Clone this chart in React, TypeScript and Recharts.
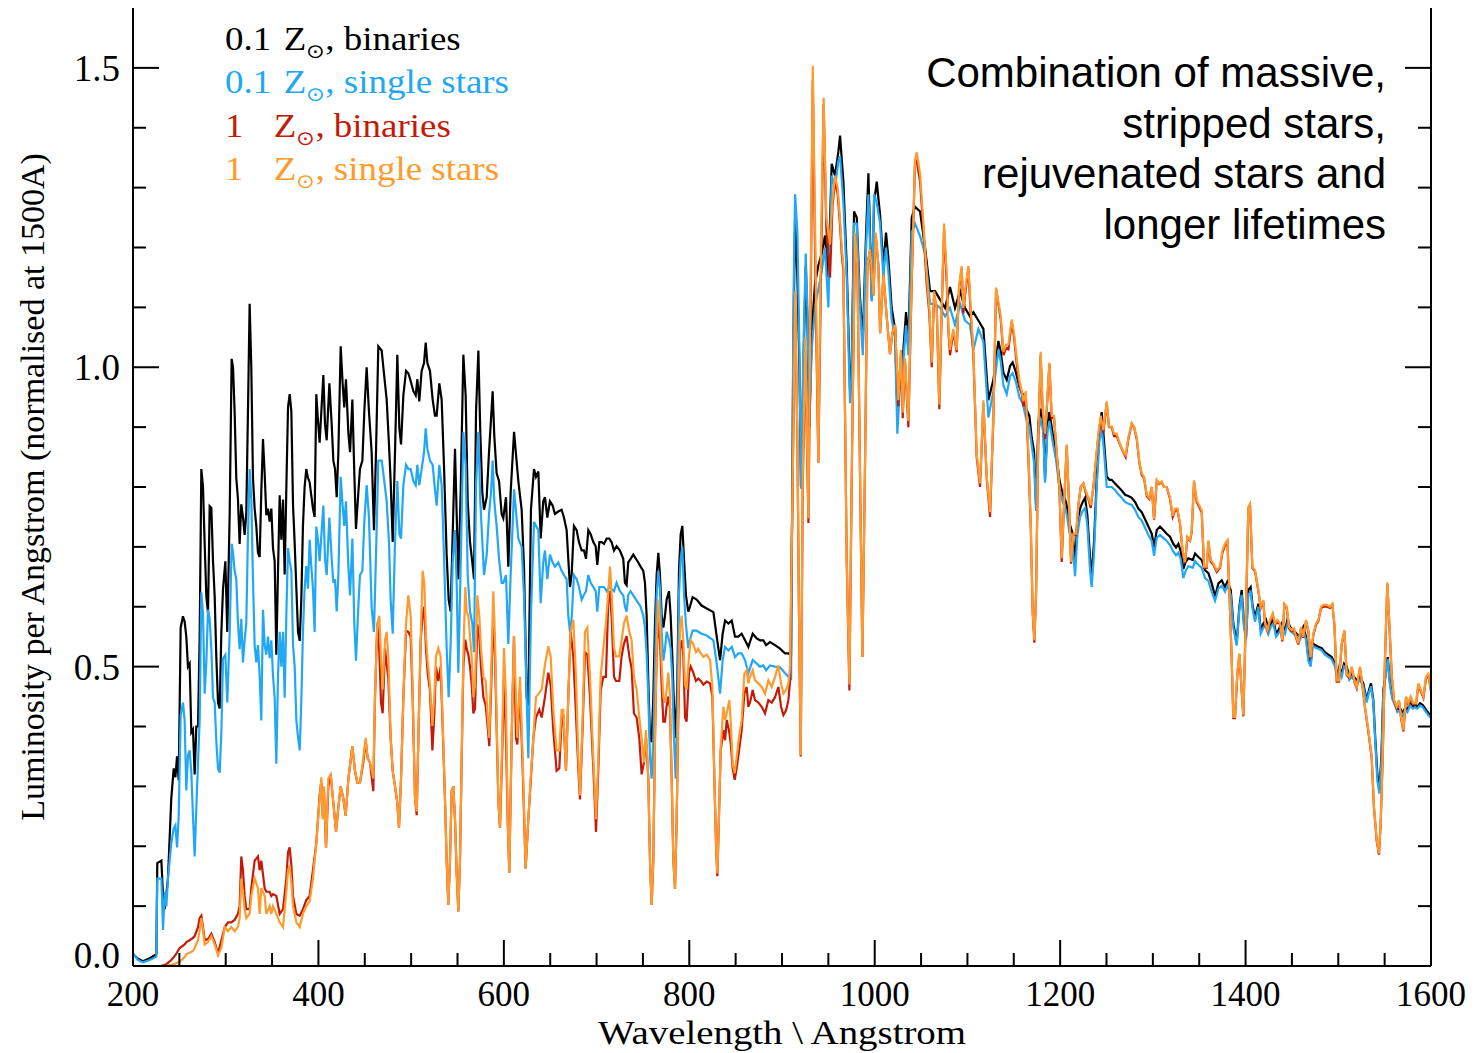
import React from 'react';
import { LineChart, Line, XAxis, YAxis } from 'recharts';

// ---------- data: 0.1 Zsun (binaries = black, single = blue) ----------
const lowZWavelength = [
  200.0, 205.4, 210.8, 218.0, 223.4, 225.2, 226.2, 230.6, 232.4, 234.2,
  236.0, 237.7, 241.3, 243.9, 245.7, 247.5, 249.3, 251.4, 253.9, 255.7,
  257.5, 259.3, 261.1, 262.9, 264.7, 266.5, 268.3, 270.1, 271.9, 273.7,
  275.5, 277.3, 279.1, 280.9, 282.7, 284.5, 286.3, 288.1, 289.9, 291.7,
  293.5, 295.3, 297.1, 299.6, 301.7, 304.3, 306.4, 307.9, 309.6, 311.4,
  313.2, 315.0, 316.8, 318.6, 320.4, 322.2, 324.0, 325.8, 327.6, 329.4,
  331.2, 333.0, 334.8, 336.6, 338.4, 340.2, 342.0, 343.8, 345.6, 347.4,
  349.2, 351.0, 352.8, 354.6, 356.4, 358.2, 360.0, 361.8, 363.6, 365.4,
  367.2, 369.0, 370.8, 372.6, 374.4, 376.2, 378.0, 379.8, 381.5, 383.3,
  385.1, 386.9, 388.7, 390.5, 392.3, 394.1, 395.9, 397.7, 399.5, 401.3,
  405.3, 407.1, 408.9, 411.8, 414.3, 416.1, 417.9, 419.7, 421.5, 424.0,
  426.1, 427.9, 429.7, 432.3, 434.1, 436.6, 438.7, 440.5, 443.0, 444.8,
  447.4, 449.5, 452.0, 454.5, 457.4, 459.9, 462.1, 464.6, 468.2, 470.0,
  473.6, 476.1, 477.9, 480.1, 482.6, 485.1, 487.3, 489.1, 491.6, 494.5,
  497.0, 499.5, 502.4, 504.9, 506.7, 508.8, 511.3, 513.9, 515.7, 517.5,
  520.3, 523.2, 525.7, 527.5, 530.4, 532.9, 535.4, 538.3, 540.5, 542.6,
  544.8, 547.3, 549.1, 550.9, 553.4, 556.3, 558.8, 561.0, 563.5, 566.0,
  567.8, 570.0, 572.5, 574.6, 576.8, 578.6, 581.5, 584.0, 586.1, 587.9,
  589.7, 592.2, 594.8, 597.6, 599.4, 602.3, 604.8, 607.3, 611.0, 615.6,
  619.2, 621.7, 624.6, 626.4, 629.2, 632.5, 634.6, 637.2, 639.7, 642.5,
  644.3, 646.9, 649.7, 652.6, 655.1, 658.7, 662.3, 664.8, 667.7, 669.5,
  671.3, 673.1, 675.6, 678.5, 681.0, 683.9, 686.4, 688.6, 691.1, 693.6,
  696.5, 699.0, 700.8, 703.0, 705.5, 708.0, 710.9, 713.7, 716.2, 718.8,
  721.6, 725.2, 728.8, 730.6, 732.4, 734.2, 736.7, 739.6, 742.5, 745.0,
  747.5, 750.4, 752.2, 754.0, 755.8, 757.6, 759.4, 761.2, 763.0, 764.8,
  766.6, 768.4, 770.2, 772.0, 773.8, 775.6, 778.1, 779.9, 781.7, 783.5,
  785.3, 787.1, 788.9, 790.7, 792.5, 794.3, 796.4, 798.9, 800.7, 803.6,
  807.9, 813.3, 818.8, 826.0, 829.6, 833.2, 836.0, 838.6, 842.2, 845.8,
  849.3, 852.9, 856.5, 860.1, 863.7, 868.4, 872.7, 876.3, 879.9, 882.8,
  887.1, 892.5, 897.9, 903.3, 906.9, 909.8, 912.3, 914.1, 916.6, 918.8,
  920.5, 923.1, 925.6, 927.4, 929.5, 932.1, 935.6, 939.2, 942.8, 946.4,
  950.0, 953.6, 957.2, 960.8, 962.6, 966.2, 969.8, 973.4, 975.2, 977.7,
  980.6, 983.5, 987.1, 990.7, 993.2, 996.8, 999.3, 1002.2, 1005.8, 1009.3,
  1012.2, 1014.7, 1018.3, 1021.9, 1024.4, 1027.3, 1030.9, 1033.8, 1036.3, 1039.9,
  1043.5, 1048.9, 1054.3, 1059.7, 1065.1, 1070.5, 1075.9, 1081.2, 1086.6, 1092.0,
  1097.4, 1102.8, 1106.4, 1111.8, 1117.2, 1122.6, 1128.0, 1133.4, 1135.9, 1138.8,
  1142.4, 1146.0, 1148.8, 1152.4, 1156.0, 1159.6, 1163.2, 1166.8, 1169.3, 1171.9,
  1174.0, 1176.5, 1179.0, 1181.9, 1183.7, 1186.2, 1188.4, 1192.0, 1195.6, 1199.2,
  1202.8, 1206.4, 1210.0, 1213.6, 1216.1, 1218.6, 1221.5, 1224.3, 1226.9, 1229.4,
  1232.3, 1234.0, 1236.6, 1239.4, 1242.3, 1244.8, 1247.3, 1250.2, 1253.1, 1255.6,
  1259.2, 1262.8, 1266.4, 1270.0, 1273.6, 1277.2, 1280.8, 1284.4, 1288.0, 1291.6,
  1295.2, 1298.8, 1301.3, 1304.2, 1307.7, 1311.3, 1314.9, 1318.5, 1322.1, 1325.0,
  1327.5, 1330.0, 1332.9, 1335.4, 1338.3, 1343.0, 1345.5, 1349.1, 1352.7, 1356.3,
  1359.9, 1363.5, 1367.1, 1370.7, 1374.3, 1377.8, 1380.4, 1384.0, 1386.8, 1390.4,
  1393.3, 1395.8, 1398.3, 1400.5, 1403.0, 1405.5, 1407.7, 1410.2, 1413.8, 1416.3,
  1419.2, 1422.1, 1424.6, 1427.1, 1430.0, 1432.9, 1435.4, 1439.0, 1442.6, 1445.1,
  1448.0, 1451.6, 1455.1, 1458.7, 1462.3, 1465.2, 1467.7, 1470.2, 1472.4, 1474.9,
  1478.5, 1482.1, 1485.7, 1489.3, 1492.9, 1496.5, 1499.0, 1501.2, 1503.7, 1506.2,
  1509.1, 1511.9, 1514.5, 1517.0, 1519.9, 1523.4, 1527.0, 1530.6, 1533.1, 1535.3,
  1537.8, 1540.0, 1542.1, 1544.3, 1546.5, 1548.6, 1551.1, 1553.3, 1555.8, 1558.3,
  1561.2, 1563.7, 1566.6, 1569.5, 1572.0, 1574.5, 1577.4, 1580.3, 1582.8, 1585.3,
  1588.2, 1591.1, 1594.6, 1597.5, 1600.0,
];

const lowZBinaries = [
  0.020, 0.012, 0.008, 0.013, 0.018, 0.020, 0.172, 0.176, 0.117, 0.095,
  0.120, 0.146, 0.280, 0.330, 0.315, 0.350, 0.310, 0.565, 0.584, 0.575,
  0.550, 0.500, 0.505, 0.390, 0.395, 0.320, 0.400, 0.400, 0.550, 0.830,
  0.800, 0.705, 0.617, 0.590, 0.768, 0.765, 0.676, 0.617, 0.514, 0.440,
  0.430, 0.558, 0.630, 0.676, 0.558, 0.757, 1.014, 1.000, 0.926, 0.815,
  0.780, 0.705, 0.771, 0.750, 0.720, 0.757, 0.926, 1.106, 1.000, 0.815,
  0.764, 0.735, 0.690, 0.683, 0.793, 0.880, 0.823, 0.753, 0.764, 0.742,
  0.764, 0.698, 0.676, 0.520, 0.660, 0.786, 0.712, 0.779, 0.654, 0.800,
  0.933, 0.955, 0.926, 0.770, 0.705, 0.630, 0.558, 0.543, 0.610, 0.735,
  0.800, 0.830, 0.815, 0.808, 0.786, 0.764, 0.750, 0.955, 0.911, 0.874,
  0.987, 0.905, 0.878, 0.973, 0.905, 0.844, 0.830, 0.783, 0.858, 1.035,
  0.973, 0.933, 0.980, 0.890, 0.858, 0.946, 0.823, 0.730, 0.790, 0.830,
  0.844, 0.926, 1.000, 0.926, 0.858, 0.728, 0.858, 1.035, 1.028, 1.000,
  0.946, 0.871, 0.810, 0.708, 0.858, 1.021, 0.898, 0.871, 0.953, 0.994,
  0.990, 0.977, 0.960, 0.953, 0.980, 0.943, 0.994, 1.007, 1.041, 1.007,
  0.994, 0.946, 0.919, 0.919, 0.973, 0.946, 0.837, 0.687, 0.612, 0.592,
  0.721, 0.864, 0.755, 0.646, 0.790, 1.021, 0.953, 0.776, 0.708, 0.674,
  0.646, 0.926, 1.028, 0.891, 0.790, 0.762, 0.783, 0.858, 0.912, 0.960,
  0.885, 0.823, 0.810, 0.755, 0.748, 0.783, 0.667, 0.790, 0.892, 0.810,
  0.762, 0.667, 0.449, 0.435, 0.762, 0.830, 0.817, 0.826, 0.714, 0.776,
  0.783, 0.749, 0.776, 0.769, 0.755, 0.759, 0.762, 0.749, 0.728, 0.680,
  0.633, 0.653, 0.735, 0.728, 0.708, 0.694, 0.694, 0.680, 0.728, 0.721,
  0.708, 0.701, 0.670, 0.708, 0.708, 0.705, 0.714, 0.714, 0.708, 0.694,
  0.701, 0.694, 0.680, 0.640, 0.636, 0.674, 0.680, 0.687, 0.680, 0.674,
  0.667, 0.660, 0.640, 0.585, 0.476, 0.381, 0.374, 0.449, 0.572, 0.653,
  0.690, 0.653, 0.585, 0.565, 0.585, 0.612, 0.626, 0.585, 0.517, 0.435,
  0.381, 0.470, 0.660, 0.721, 0.735, 0.680, 0.619, 0.592, 0.600, 0.616,
  0.612, 0.602, 0.597, 0.591, 0.550, 0.511, 0.555, 0.577, 0.572, 0.577,
  0.550, 0.550, 0.555, 0.544, 0.533, 0.555, 0.547, 0.544, 0.544, 0.536,
  0.541, 0.536, 0.530, 0.522, 0.522, 0.520, 1.050, 1.250, 1.150, 1.000,
  0.800, 1.000, 1.170, 1.080, 0.900, 1.060, 1.140, 1.170, 1.190, 1.220,
  1.150, 1.340, 1.320, 1.360, 1.387, 1.310, 1.170, 0.960, 1.000, 1.260,
  1.250, 1.134, 1.043, 1.225, 1.324, 1.113, 1.275, 1.310, 1.254, 1.169,
  1.225, 1.183, 1.099, 1.064, 0.924, 0.994, 1.029, 1.092, 1.043, 1.250,
  1.268, 1.260, 1.200, 1.127, 1.127, 1.113, 1.099, 1.134, 1.099, 1.127,
  1.099, 1.085, 1.092, 1.078, 1.064, 0.945, 0.979, 1.044, 1.026, 0.991,
  0.979, 1.002, 1.008, 0.991, 0.967, 0.955, 0.931, 0.919, 0.883, 0.859,
  0.770, 0.907, 0.931, 0.901, 0.813, 0.901, 0.925, 0.889, 0.859, 0.812,
  0.787, 0.775, 0.740, 0.722, 0.675, 0.740, 0.764, 0.775, 0.782, 0.752,
  0.681, 0.651, 0.710, 0.812, 0.895, 0.925, 0.877, 0.818, 0.812, 0.812,
  0.806, 0.800, 0.794, 0.787, 0.785, 0.782, 0.775, 0.764, 0.758, 0.746,
  0.734, 0.722, 0.699, 0.728, 0.734, 0.728, 0.722, 0.717, 0.705, 0.699,
  0.705, 0.693, 0.663, 0.675, 0.681, 0.678, 0.689, 0.683, 0.678, 0.661,
  0.656, 0.639, 0.617, 0.639, 0.644, 0.633, 0.642, 0.628, 0.572, 0.539,
  0.600, 0.628, 0.572, 0.550, 0.628, 0.633, 0.600, 0.583, 0.605, 0.561,
  0.572, 0.578, 0.561, 0.572, 0.578, 0.555, 0.561, 0.572, 0.561, 0.578,
  0.566, 0.561, 0.555, 0.550, 0.566, 0.550, 0.516, 0.505, 0.539, 0.536,
  0.533, 0.531, 0.524, 0.520, 0.516, 0.505, 0.483, 0.500, 0.488, 0.505,
  0.500, 0.483, 0.488, 0.483, 0.477, 0.483, 0.472, 0.444, 0.461, 0.472,
  0.444, 0.377, 0.322, 0.294, 0.350, 0.461, 0.488, 0.516, 0.472, 0.450,
  0.439, 0.428, 0.431, 0.422, 0.431, 0.428, 0.439, 0.433, 0.436, 0.433,
  0.439, 0.436, 0.428, 0.422, 0.419,
];

const lowZSingle = [
  0.021, 0.010, 0.006, 0.010, 0.014, 0.016, 0.146, 0.146, 0.060, 0.124,
  0.100, 0.146, 0.205, 0.230, 0.235, 0.198, 0.250, 0.418, 0.440, 0.410,
  0.293, 0.352, 0.360, 0.323, 0.250, 0.183, 0.264, 0.340, 0.410, 0.624,
  0.588, 0.455, 0.507, 0.595, 0.580, 0.529, 0.448, 0.440, 0.374, 0.330,
  0.323, 0.390, 0.514, 0.520, 0.440, 0.558, 0.705, 0.690, 0.660, 0.646,
  0.573, 0.529, 0.580, 0.507, 0.544, 0.573, 0.720, 0.830, 0.780, 0.646,
  0.536, 0.507, 0.536, 0.485, 0.410, 0.595, 0.536, 0.520, 0.550, 0.514,
  0.544, 0.485, 0.448, 0.338, 0.485, 0.558, 0.500, 0.558, 0.448, 0.588,
  0.698, 0.676, 0.660, 0.536, 0.500, 0.410, 0.382, 0.360, 0.440, 0.558,
  0.630, 0.668, 0.630, 0.712, 0.668, 0.630, 0.558, 0.734, 0.712, 0.676,
  0.769, 0.680, 0.653, 0.749, 0.680, 0.640, 0.646, 0.592, 0.653, 0.817,
  0.769, 0.735, 0.776, 0.667, 0.619, 0.714, 0.572, 0.510, 0.599, 0.653,
  0.660, 0.742, 0.803, 0.750, 0.599, 0.558, 0.687, 0.844, 0.844, 0.823,
  0.776, 0.708, 0.612, 0.555, 0.708, 0.810, 0.721, 0.714, 0.803, 0.837,
  0.830, 0.830, 0.810, 0.803, 0.837, 0.803, 0.830, 0.858, 0.898, 0.864,
  0.844, 0.837, 0.796, 0.769, 0.837, 0.803, 0.687, 0.531, 0.449, 0.538,
  0.674, 0.728, 0.640, 0.490, 0.667, 0.892, 0.837, 0.653, 0.592, 0.572,
  0.524, 0.803, 0.892, 0.776, 0.708, 0.653, 0.687, 0.755, 0.790, 0.844,
  0.776, 0.735, 0.680, 0.640, 0.640, 0.653, 0.538, 0.653, 0.796, 0.714,
  0.700, 0.619, 0.449, 0.347, 0.585, 0.742, 0.735, 0.728, 0.606, 0.674,
  0.694, 0.646, 0.687, 0.674, 0.667, 0.674, 0.660, 0.653, 0.646, 0.585,
  0.558, 0.580, 0.653, 0.646, 0.633, 0.612, 0.620, 0.626, 0.653, 0.640,
  0.633, 0.626, 0.592, 0.633, 0.633, 0.633, 0.626, 0.633, 0.630, 0.626,
  0.640, 0.626, 0.619, 0.600, 0.592, 0.620, 0.626, 0.619, 0.612, 0.606,
  0.600, 0.585, 0.565, 0.520, 0.449, 0.350, 0.313, 0.380, 0.500, 0.620,
  0.660, 0.630, 0.558, 0.510, 0.530, 0.558, 0.545, 0.530, 0.480, 0.381,
  0.313, 0.420, 0.620, 0.680, 0.700, 0.620, 0.570, 0.531, 0.545, 0.560,
  0.560, 0.555, 0.552, 0.544, 0.505, 0.455, 0.511, 0.533, 0.527, 0.533,
  0.516, 0.522, 0.522, 0.511, 0.489, 0.511, 0.505, 0.500, 0.502, 0.494,
  0.502, 0.500, 0.499, 0.489, 0.483, 0.480, 1.100, 1.289, 1.225, 1.029,
  0.797, 1.029, 1.190, 1.099, 0.903, 1.030, 1.100, 1.130, 1.160, 1.200,
  1.100, 1.320, 1.300, 1.345, 1.352, 1.275, 1.150, 0.940, 0.980, 1.240,
  1.240, 1.120, 1.020, 1.200, 1.289, 1.110, 1.289, 1.275, 1.240, 1.150,
  1.200, 1.160, 1.080, 1.050, 0.889, 0.970, 1.010, 1.070, 1.020, 1.225,
  1.240, 1.219, 1.190, 1.106, 1.106, 1.099, 1.085, 1.099, 1.071, 1.106,
  1.078, 1.071, 1.029, 1.064, 1.043, 0.916, 0.960, 1.030, 1.010, 0.970,
  0.955, 0.985, 0.990, 0.975, 0.950, 0.940, 0.915, 0.900, 0.870, 0.840,
  0.760, 0.890, 0.915, 0.890, 0.807, 0.890, 0.910, 0.875, 0.845, 0.800,
  0.775, 0.760, 0.725, 0.700, 0.651, 0.720, 0.750, 0.760, 0.765, 0.735,
  0.660, 0.633, 0.690, 0.800, 0.875, 0.900, 0.860, 0.800, 0.800, 0.800,
  0.795, 0.788, 0.782, 0.775, 0.772, 0.770, 0.762, 0.750, 0.744, 0.732,
  0.720, 0.710, 0.685, 0.715, 0.720, 0.715, 0.710, 0.703, 0.692, 0.686,
  0.690, 0.680, 0.648, 0.660, 0.668, 0.665, 0.676, 0.670, 0.665, 0.648,
  0.643, 0.625, 0.610, 0.630, 0.635, 0.625, 0.635, 0.620, 0.565, 0.535,
  0.595, 0.620, 0.565, 0.545, 0.620, 0.625, 0.595, 0.575, 0.600, 0.555,
  0.565, 0.570, 0.555, 0.566, 0.572, 0.550, 0.555, 0.566, 0.555, 0.572,
  0.560, 0.555, 0.550, 0.545, 0.560, 0.545, 0.510, 0.500, 0.535, 0.532,
  0.530, 0.527, 0.520, 0.516, 0.512, 0.500, 0.478, 0.495, 0.483, 0.500,
  0.495, 0.478, 0.483, 0.478, 0.472, 0.478, 0.467, 0.440, 0.457, 0.467,
  0.440, 0.370, 0.310, 0.288, 0.340, 0.455, 0.485, 0.513, 0.468, 0.446,
  0.435, 0.424, 0.427, 0.418, 0.427, 0.424, 0.435, 0.430, 0.432, 0.430,
  0.435, 0.432, 0.424, 0.418, 0.415,
];

// ---------- data: 1 Zsun (binaries = red, single = orange) ----------
const solarZWavelength = [
  200.0, 230.0, 236.0, 241.3, 245.7, 250.3, 255.7, 257.5, 261.1, 264.7,
  266.5, 270.1, 271.9, 273.7, 275.5, 277.3, 280.9, 284.5, 288.1, 291.7,
  295.3, 299.0, 302.5, 306.0, 309.6, 313.2, 315.0, 316.8, 318.6, 320.4,
  322.2, 325.8, 327.6, 331.2, 334.8, 336.6, 338.4, 342.0, 343.8, 347.4,
  349.2, 351.0, 354.6, 358.2, 361.8, 365.4, 367.2, 369.0, 370.8, 372.6,
  376.2, 379.8, 383.3, 386.9, 390.5, 394.1, 397.7, 401.3, 403.1, 404.6,
  406.0, 408.2, 410.7, 413.2, 416.1, 419.0, 421.5, 424.0, 426.9, 429.4,
  432.3, 436.6, 439.4, 442.0, 444.8, 448.4, 451.0, 453.1, 455.6, 459.2,
  461.0, 463.5, 465.7, 467.5, 469.3, 471.8, 473.6, 475.4, 477.9, 480.1,
  482.6, 485.1, 486.9, 489.1, 491.6, 494.5, 497.0, 499.5, 501.6, 504.2,
  506.0, 507.8, 510.3, 512.4, 514.2, 516.0, 517.8, 520.3, 522.9, 525.0,
  526.8, 529.3, 531.8, 534.0, 536.5, 538.3, 540.1, 541.9, 543.7, 545.5,
  547.3, 549.1, 550.9, 552.7, 554.5, 556.3, 558.4, 559.9, 561.7, 563.5,
  565.3, 567.1, 568.9, 571.4, 573.5, 575.3, 577.9, 580.4, 582.5, 584.3,
  586.8, 588.6, 590.4, 592.2, 594.0, 595.8, 598.3, 600.1, 602.3, 604.1,
  605.9, 608.4, 610.9, 613.1, 614.5, 617.4, 620.3, 623.5, 626.4, 628.9,
  631.8, 634.6, 638.2, 640.8, 644.3, 647.9, 650.5, 653.3, 656.9, 659.8,
  662.3, 664.1, 667.0, 669.5, 672.0, 674.9, 677.8, 680.3, 682.1, 685.0,
  687.5, 690.0, 692.9, 696.5, 699.4, 701.9, 704.4, 707.3, 710.1, 712.7,
  714.5, 716.3, 718.8, 720.9, 724.5, 727.0, 729.5, 732.4, 735.3, 737.8,
  740.3, 743.2, 746.1, 748.6, 751.1, 753.3, 755.8, 757.6, 759.4, 761.2,
  763.0, 764.8, 766.6, 768.4, 770.2, 772.0, 773.8, 775.6, 777.4, 779.2,
  781.0, 782.8, 784.6, 786.4, 788.2, 790.0, 791.8, 793.6, 795.4, 797.1,
  799.7, 801.5, 804.3, 807.2, 809.7, 812.5, 815.2, 818.8, 822.4, 824.9,
  827.1, 828.9, 830.3, 832.1, 833.9, 836.8, 838.6, 840.4, 843.2, 844.8,
  846.8, 849.0, 851.1, 853.7, 856.5, 859.4, 861.9, 863.7, 865.5, 868.4,
  870.9, 874.5, 878.1, 881.7, 885.3, 888.9, 892.5, 896.1, 899.0, 901.5,
  904.4, 906.9, 908.7, 910.5, 912.3, 914.1, 916.6, 918.2, 920.2, 922.4,
  925.0, 928.5, 930.6, 933.2, 936.0, 939.2, 942.0, 944.9, 947.8, 951.8,
  954.5, 957.2, 960.0, 962.5, 964.4, 966.2, 969.8, 972.7, 975.2, 978.8,
  981.3, 984.2, 986.7, 989.4, 992.1, 995.0, 998.6, 1001.1, 1004.0, 1005.8,
  1009.4, 1012.9, 1016.5, 1019.0, 1022.0, 1025.5, 1028.4, 1030.2, 1032.7, 1036.3,
  1039.9, 1043.5, 1045.3, 1048.9, 1052.5, 1056.0, 1058.9, 1061.5, 1064.0, 1066.9,
  1069.7, 1072.2, 1074.8, 1077.7, 1079.5, 1081.2, 1084.8, 1088.4, 1090.9, 1093.8,
  1095.6, 1097.4, 1101.0, 1103.5, 1106.4, 1110.0, 1113.6, 1117.2, 1120.8, 1124.4,
  1128.0, 1130.9, 1133.4, 1135.9, 1138.8, 1141.7, 1144.2, 1147.8, 1150.3, 1153.2,
  1156.0, 1158.6, 1160.4, 1162.9, 1165.7, 1168.3, 1170.4, 1172.2, 1174.0, 1176.5,
  1179.0, 1181.2, 1183.7, 1186.2, 1188.4, 1190.9, 1193.4, 1196.3, 1199.2, 1201.7,
  1204.2, 1207.1, 1209.6, 1211.8, 1214.3, 1217.2, 1219.7, 1222.2, 1225.1, 1227.6,
  1230.5, 1233.0, 1235.9, 1238.7, 1241.2, 1243.8, 1246.6, 1250.2, 1252.7, 1255.6,
  1258.1, 1261.0, 1264.6, 1268.2, 1270.7, 1273.6, 1277.2, 1279.7, 1282.6, 1285.5,
  1288.0, 1290.5, 1293.4, 1296.2, 1298.8, 1301.3, 1304.2, 1307.0, 1309.5, 1312.0,
  1314.9, 1318.5, 1321.4, 1323.9, 1326.4, 1329.3, 1332.2, 1334.7, 1337.2, 1340.1,
  1341.9, 1344.4, 1347.3, 1352.7, 1355.2, 1358.1, 1359.9, 1362.4, 1365.3, 1368.9,
  1372.5, 1375.0, 1377.8, 1380.4, 1382.5, 1385.0, 1386.8, 1388.6, 1391.1, 1393.3,
  1395.8, 1397.6, 1400.1, 1403.0, 1404.8, 1407.3, 1410.2, 1413.8, 1416.3, 1419.2,
  1421.0, 1423.5, 1426.4, 1429.3, 1431.8, 1434.3, 1437.2, 1439.7, 1441.8, 1444.4,
  1446.9, 1449.8, 1452.3, 1454.4, 1456.9, 1459.8, 1462.3, 1465.2, 1467.7, 1470.2,
  1473.1, 1476.0, 1478.5, 1481.4, 1483.9, 1487.5, 1491.1, 1493.6, 1495.8, 1498.3,
  1500.8, 1503.7, 1506.6, 1509.1, 1511.9, 1514.5, 1517.3, 1519.9, 1523.4, 1526.3,
  1528.8, 1532.4, 1536.0, 1538.5, 1541.4, 1543.9, 1545.7, 1547.9, 1550.4, 1552.9,
  1555.1, 1557.6, 1560.1, 1563.0, 1565.5, 1567.7, 1570.2, 1573.1, 1575.6, 1578.1,
  1581.0, 1583.9, 1586.4, 1588.9, 1591.8, 1594.6, 1597.1, 1600.0,
];

const solarZBinaries = [
  0.000, 0.000, 0.003, 0.010, 0.018, 0.030, 0.036, 0.040, 0.043, 0.047,
  0.050, 0.065, 0.080, 0.084, 0.065, 0.043, 0.045, 0.054, 0.040, 0.021,
  0.043, 0.065, 0.073, 0.073, 0.077, 0.087, 0.100, 0.183, 0.160, 0.117,
  0.095, 0.095, 0.130, 0.176, 0.183, 0.160, 0.176, 0.130, 0.124, 0.124,
  0.117, 0.120, 0.117, 0.087, 0.095, 0.146, 0.190, 0.198, 0.168, 0.117,
  0.087, 0.084, 0.095, 0.110, 0.117, 0.160, 0.205, 0.286, 0.308, 0.250,
  0.290, 0.197, 0.300, 0.320, 0.272, 0.224, 0.265, 0.300, 0.279, 0.251,
  0.313, 0.367, 0.326, 0.306, 0.306, 0.340, 0.375, 0.347, 0.340, 0.292,
  0.449, 0.572, 0.524, 0.440, 0.422, 0.530, 0.504, 0.480, 0.381, 0.326,
  0.300, 0.272, 0.231, 0.313, 0.449, 0.560, 0.558, 0.550, 0.450, 0.279,
  0.252, 0.381, 0.544, 0.585, 0.600, 0.530, 0.490, 0.460, 0.360, 0.420,
  0.500, 0.476, 0.500, 0.400, 0.279, 0.177, 0.102, 0.177, 0.292, 0.300,
  0.245, 0.156, 0.091, 0.177, 0.347, 0.500, 0.545, 0.530, 0.520, 0.500,
  0.470, 0.422, 0.430, 0.571, 0.550, 0.500, 0.449, 0.435, 0.400, 0.367,
  0.490, 0.585, 0.520, 0.400, 0.279, 0.231, 0.360, 0.483, 0.381, 0.245,
  0.156, 0.381, 0.551, 0.381, 0.370, 0.460, 0.330, 0.163, 0.245, 0.306,
  0.381, 0.415, 0.428, 0.415, 0.449, 0.490, 0.469, 0.394, 0.326, 0.330,
  0.410, 0.420, 0.326, 0.449, 0.558, 0.517, 0.420, 0.330, 0.278, 0.400,
  0.524, 0.520, 0.449, 0.330, 0.224, 0.330, 0.460, 0.483, 0.483, 0.612,
  0.626, 0.580, 0.483, 0.476, 0.476, 0.517, 0.538, 0.551, 0.517, 0.497,
  0.422, 0.415, 0.380, 0.320, 0.340, 0.380, 0.313, 0.177, 0.102, 0.177,
  0.381, 0.520, 0.578, 0.545, 0.469, 0.408, 0.408, 0.435, 0.450, 0.430,
  0.313, 0.177, 0.129, 0.245, 0.420, 0.531, 0.544, 0.517, 0.415, 0.408,
  0.490, 0.500, 0.490, 0.476, 0.480, 0.476, 0.470, 0.475, 0.472, 0.450,
  0.310, 0.200, 0.150, 0.255, 0.360, 0.394, 0.377, 0.411, 0.390, 0.370,
  0.330, 0.311, 0.330, 0.360, 0.394, 0.455, 0.466, 0.433, 0.440, 0.461,
  0.444, 0.440, 0.433, 0.422, 0.444, 0.440, 0.449, 0.466, 0.433, 0.419,
  0.427, 0.444, 0.477, 0.700, 0.900, 1.120, 0.880, 0.600, 0.350, 0.800,
  1.030, 0.740, 1.050, 1.480, 1.150, 0.840, 1.150, 1.440, 1.230, 1.150,
  1.270, 1.310, 1.290, 1.240, 1.190, 1.160, 0.678, 0.460, 0.818, 1.220,
  1.170, 0.818, 0.516, 0.818, 1.170, 1.197, 1.120, 1.220, 1.170, 1.057,
  1.155, 1.085, 1.022, 1.057, 1.070, 0.935, 1.025, 0.915, 1.010, 0.900,
  1.140, 1.345, 1.345, 1.310, 1.230, 1.140, 1.090, 1.000, 1.120, 1.100,
  0.930, 1.090, 1.230, 1.140, 1.060, 1.020, 1.060, 1.025, 1.130, 1.165,
  1.090, 1.120, 1.165, 1.090, 1.020, 0.850, 0.800, 0.940, 0.815, 0.750,
  0.915, 1.130, 1.105, 1.080, 1.020, 1.032, 1.030, 1.075, 1.050, 1.005,
  0.970, 0.955, 0.935, 0.955, 0.850, 0.735, 0.590, 0.540, 0.620, 0.885,
  1.020, 0.925, 0.880, 0.945, 1.005, 0.915, 0.915, 0.855, 0.795, 0.675,
  0.770, 0.868, 0.770, 0.672, 0.720, 0.720, 0.770, 0.800, 0.806, 0.790,
  0.780, 0.765, 0.800, 0.845, 0.885, 0.915, 0.890, 0.940, 0.900, 0.900,
  0.885, 0.885, 0.870, 0.858, 0.850, 0.880, 0.905, 0.900, 0.880, 0.840,
  0.820, 0.815, 0.785, 0.780, 0.800, 0.745, 0.810, 0.805, 0.808, 0.800,
  0.800, 0.780, 0.750, 0.760, 0.762, 0.738, 0.690, 0.672, 0.715, 0.710,
  0.725, 0.808, 0.775, 0.758, 0.665, 0.665, 0.708, 0.675, 0.670, 0.658,
  0.665, 0.690, 0.702, 0.708, 0.625, 0.513, 0.414, 0.414, 0.487, 0.520,
  0.459, 0.417, 0.570, 0.764, 0.770, 0.665, 0.659, 0.626, 0.598, 0.609,
  0.570, 0.559, 0.576, 0.587, 0.570, 0.576, 0.570, 0.542, 0.603, 0.598,
  0.564, 0.559, 0.562, 0.548, 0.537, 0.564, 0.548, 0.576, 0.559, 0.514,
  0.553, 0.570, 0.576, 0.598, 0.600, 0.600, 0.598, 0.603, 0.570, 0.475,
  0.475, 0.537, 0.559, 0.486, 0.481, 0.498, 0.475, 0.464, 0.498, 0.464,
  0.431, 0.392, 0.348, 0.264, 0.209, 0.186, 0.237, 0.348, 0.514, 0.638,
  0.570, 0.486, 0.442, 0.431, 0.442, 0.414, 0.392, 0.448, 0.437, 0.448,
  0.437, 0.437, 0.470, 0.459, 0.448, 0.480, 0.486, 0.459,
];

const solarZSingle = [
  0.000, 0.000, 0.000, 0.002, 0.004, 0.007, 0.015, 0.020, 0.022, 0.025,
  0.030, 0.043, 0.060, 0.080, 0.060, 0.036, 0.040, 0.050, 0.036, 0.018,
  0.030, 0.065, 0.058, 0.065, 0.058, 0.065, 0.080, 0.146, 0.124, 0.095,
  0.080, 0.087, 0.117, 0.146, 0.130, 0.087, 0.130, 0.117, 0.087, 0.100,
  0.087, 0.100, 0.087, 0.073, 0.065, 0.124, 0.160, 0.168, 0.140, 0.100,
  0.073, 0.065, 0.087, 0.100, 0.108, 0.146, 0.205, 0.280, 0.315, 0.245,
  0.300, 0.197, 0.313, 0.320, 0.272, 0.224, 0.265, 0.300, 0.279, 0.251,
  0.313, 0.367, 0.326, 0.306, 0.306, 0.347, 0.381, 0.347, 0.340, 0.313,
  0.449, 0.572, 0.585, 0.517, 0.462, 0.544, 0.558, 0.517, 0.381, 0.326,
  0.300, 0.272, 0.231, 0.313, 0.449, 0.572, 0.619, 0.585, 0.462, 0.279,
  0.258, 0.381, 0.544, 0.660, 0.640, 0.551, 0.510, 0.469, 0.401, 0.449,
  0.517, 0.531, 0.517, 0.408, 0.279, 0.177, 0.102, 0.177, 0.292, 0.300,
  0.245, 0.156, 0.091, 0.177, 0.347, 0.517, 0.633, 0.592, 0.585, 0.551,
  0.517, 0.449, 0.469, 0.619, 0.585, 0.531, 0.483, 0.476, 0.415, 0.381,
  0.517, 0.626, 0.551, 0.415, 0.279, 0.231, 0.381, 0.531, 0.449, 0.245,
  0.156, 0.381, 0.551, 0.449, 0.381, 0.483, 0.347, 0.163, 0.245, 0.313,
  0.381, 0.449, 0.456, 0.462, 0.503, 0.534, 0.517, 0.428, 0.360, 0.360,
  0.428, 0.428, 0.326, 0.449, 0.558, 0.578, 0.483, 0.347, 0.285, 0.415,
  0.558, 0.565, 0.483, 0.347, 0.245, 0.347, 0.483, 0.531, 0.572, 0.626,
  0.667, 0.619, 0.531, 0.517, 0.517, 0.544, 0.572, 0.585, 0.558, 0.544,
  0.483, 0.462, 0.415, 0.381, 0.340, 0.394, 0.313, 0.177, 0.102, 0.177,
  0.381, 0.531, 0.612, 0.572, 0.503, 0.449, 0.440, 0.462, 0.490, 0.449,
  0.313, 0.177, 0.129, 0.245, 0.449, 0.565, 0.585, 0.544, 0.469, 0.462,
  0.517, 0.544, 0.538, 0.524, 0.530, 0.522, 0.516, 0.520, 0.511, 0.466,
  0.311, 0.200, 0.155, 0.255, 0.366, 0.433, 0.411, 0.422, 0.444, 0.405,
  0.338, 0.322, 0.349, 0.383, 0.411, 0.488, 0.494, 0.472, 0.483, 0.494,
  0.477, 0.472, 0.466, 0.455, 0.477, 0.466, 0.483, 0.502, 0.472, 0.455,
  0.461, 0.472, 0.500, 0.700, 0.900, 1.127, 0.888, 0.607, 0.352, 0.818,
  1.050, 0.748, 1.100, 1.503, 1.200, 0.840, 1.200, 1.450, 1.250, 1.205,
  1.280, 1.320, 1.300, 1.250, 1.200, 1.170, 0.678, 0.470, 0.818, 1.225,
  1.170, 0.818, 0.516, 0.818, 1.170, 1.197, 1.120, 1.225, 1.170, 1.057,
  1.155, 1.085, 1.022, 1.057, 1.071, 0.945, 1.029, 0.924, 1.015, 0.910,
  1.148, 1.345, 1.359, 1.324, 1.240, 1.155, 1.099, 1.008, 1.127, 1.099,
  0.938, 1.099, 1.240, 1.155, 1.064, 1.029, 1.064, 1.029, 1.134, 1.169,
  1.099, 1.127, 1.169, 1.099, 1.029, 0.854, 0.806, 0.945, 0.818, 0.758,
  0.919, 1.133, 1.109, 1.086, 1.026, 1.038, 1.038, 1.080, 1.056, 1.014,
  0.979, 0.960, 0.943, 0.960, 0.859, 0.740, 0.591, 0.544, 0.621, 0.889,
  1.026, 0.931, 0.889, 0.948, 1.008, 0.919, 0.919, 0.859, 0.800, 0.681,
  0.770, 0.871, 0.770, 0.675, 0.722, 0.722, 0.770, 0.800, 0.806, 0.794,
  0.782, 0.770, 0.800, 0.847, 0.889, 0.919, 0.895, 0.943, 0.901, 0.901,
  0.889, 0.889, 0.871, 0.859, 0.853, 0.883, 0.907, 0.901, 0.883, 0.841,
  0.823, 0.817, 0.787, 0.782, 0.800, 0.746, 0.812, 0.806, 0.809, 0.800,
  0.800, 0.782, 0.752, 0.764, 0.764, 0.740, 0.693, 0.675, 0.717, 0.711,
  0.728, 0.811, 0.778, 0.761, 0.667, 0.667, 0.711, 0.678, 0.672, 0.661,
  0.667, 0.694, 0.705, 0.711, 0.628, 0.516, 0.416, 0.416, 0.489, 0.522,
  0.461, 0.419, 0.572, 0.767, 0.772, 0.667, 0.661, 0.628, 0.600, 0.611,
  0.572, 0.561, 0.578, 0.589, 0.572, 0.578, 0.572, 0.544, 0.605, 0.600,
  0.566, 0.561, 0.564, 0.550, 0.539, 0.566, 0.550, 0.578, 0.561, 0.516,
  0.555, 0.572, 0.578, 0.600, 0.603, 0.603, 0.600, 0.605, 0.572, 0.477,
  0.477, 0.539, 0.561, 0.488, 0.483, 0.500, 0.477, 0.466, 0.500, 0.466,
  0.433, 0.394, 0.350, 0.266, 0.211, 0.188, 0.239, 0.350, 0.516, 0.641,
  0.572, 0.488, 0.444, 0.433, 0.444, 0.416, 0.394, 0.450, 0.439, 0.450,
  0.439, 0.439, 0.472, 0.461, 0.450, 0.483, 0.488, 0.461,
];

// ---------- axes & labels ----------
const xTicks = [200, 250, 300, 350, 400, 450, 500, 550, 600, 650, 700, 750, 800, 850, 900, 950,
  1000, 1050, 1100, 1150, 1200, 1250, 1300, 1350, 1400, 1450, 1500, 1550, 1600];
const yTicks = [0, 0.1, 0.2, 0.3, 0.4, 0.5, 0.6, 0.7, 0.8, 0.9, 1.0, 1.1, 1.2, 1.3, 1.4, 1.5];
const seriesPrefixes = ['0.1', '0.1', '1', '1'];
const seriesSuffixes = [', binaries', ', single stars', ', binaries', ', single stars'];
const seriesColors = ['#000000', '#22A7F5', '#C41A08', '#FF9A2E'];
const annotationLines = ['Combination of massive,', 'stripped stars,', 'rejuvenated stars and', 'longer lifetimes'];
const xTitle = 'Wavelength \\ Angstrom';
const yTitle = 'Luminosity per Angstrom (normalised at 1500A)';

const toPoints = (wl: number[], v: number[]) => wl.map((w, i) => ({ wl: w, v: v[i] }));
const blackData = toPoints(lowZWavelength, lowZBinaries);
const blueData = toPoints(lowZWavelength, lowZSingle);
const redData = toPoints(solarZWavelength, solarZBinaries);
const orangeData = toPoints(solarZWavelength, solarZSingle);

const SERIF = "'Liberation Serif', 'Times New Roman', serif";
const SANS = "'Liberation Sans', Arial, sans-serif";

const W = 1464;
const H = 1045;
const PLOT_LEFT = 125;
const PLOT_RIGHT = 1423;
const PLOT_BOTTOM = 958;

function xTick(side: 'bottom' | 'top') {
  return (props: any) => {
    const { x, y, payload } = props;
    const v = payload.value as number;
    const major = v % 200 === 0;
    const len = major ? 26 : 13;
    const dir = side === 'bottom' ? -1 : 1;
    return (
      <g>
        <line x1={x} y1={y} x2={x} y2={y + dir * len} stroke="#000" strokeWidth={2} />
        {side === 'bottom' && major ? (
          <text x={x} y={y + 40} textAnchor="middle" fontFamily={SERIF} fontSize={35} fill="#000">
            {String(v)}
          </text>
        ) : null}
      </g>
    );
  };
}

function yTick(side: 'left' | 'right') {
  return (props: any) => {
    const { x, y, payload } = props;
    const v = payload.value as number;
    const major = Math.round(v * 10) % 5 === 0;
    const len = major ? 26 : 13;
    const dir = side === 'left' ? 1 : -1;
    return (
      <g>
        <line x1={x} y1={y} x2={x + dir * len} y2={y} stroke="#000" strokeWidth={2} />
        {side === 'left' && major ? (
          <text x={x - 13} y={y + 13 - (v === 0 ? 11 : 0)} textAnchor="end" fontFamily={SERIF} fontSize={37} fill="#000">
            {v.toFixed(1)}
          </text>
        ) : null}
      </g>
    );
  };
}

const legendBaselines = [42, 85, 129, 172];
const legendZOffsets = [52.5, 52.5, 43.6, 43.6];

export default function App() {
  return (
    <div style={{ position: 'relative', width: W, height: H }}>
      <LineChart width={W} height={H} margin={{ top: 0, right: 0, bottom: 0, left: 0 }}>
        <XAxis
          xAxisId="b"
          dataKey="wl"
          type="number"
          domain={[200, 1600]}
          ticks={xTicks}
          interval={0}
          orientation="bottom"
          height={H - PLOT_BOTTOM}
          tickSize={0}
          tickMargin={0}
          tickLine={false}
          axisLine={{ stroke: '#000', strokeWidth: 2 }}
          tick={xTick('bottom')}
          allowDataOverflow
        />
        <XAxis
          xAxisId="t"
          dataKey="wl"
          type="number"
          domain={[200, 1600]}
          ticks={xTicks}
          interval={0}
          orientation="top"
          height={0}
          tickSize={0}
          tickMargin={0}
          tickLine={false}
          axisLine={{ stroke: '#000', strokeWidth: 2 }}
          tick={xTick('top')}
          allowDataOverflow
        />
        <YAxis
          yAxisId="l"
          type="number"
          domain={[0, 1.6]}
          ticks={yTicks}
          interval={0}
          width={PLOT_LEFT}
          tickSize={0}
          tickMargin={0}
          tickLine={false}
          axisLine={{ stroke: '#000', strokeWidth: 2 }}
          tick={yTick('left')}
          allowDataOverflow
        />
        <YAxis
          yAxisId="r"
          orientation="right"
          type="number"
          domain={[0, 1.6]}
          ticks={yTicks}
          interval={0}
          width={W - PLOT_RIGHT}
          tickSize={0}
          tickMargin={0}
          tickLine={false}
          axisLine={{ stroke: '#000', strokeWidth: 2 }}
          tick={yTick('right')}
          allowDataOverflow
        />
        <Line xAxisId="b" yAxisId="l" data={blackData} dataKey="v" type="linear" stroke={seriesColors[0]} strokeWidth={2.2} dot={false} isAnimationActive={false} />
        <Line xAxisId="b" yAxisId="l" data={blueData} dataKey="v" type="linear" stroke={seriesColors[1]} strokeWidth={2.2} dot={false} isAnimationActive={false} />
        <Line xAxisId="b" yAxisId="l" data={redData} dataKey="v" type="linear" stroke={seriesColors[2]} strokeWidth={2.2} dot={false} isAnimationActive={false} />
        <Line xAxisId="b" yAxisId="l" data={orangeData} dataKey="v" type="linear" stroke={seriesColors[3]} strokeWidth={2.2} dot={false} isAnimationActive={false} />
      </LineChart>
      <svg
        width={W}
        height={H}
        style={{ position: 'absolute', left: 0, top: 0, pointerEvents: 'none' }}
      >
        {seriesPrefixes.map((p, i) => (
          <g key={i} transform={`translate(217,${legendBaselines[i]}) scale(1.12,1)`}>
            <text x={0} y={0} fontFamily={SERIF} fontSize={33} fill={seriesColors[i]}>
              <tspan>{p}</tspan>
              <tspan x={legendZOffsets[i]}>Z</tspan>
              <tspan fontSize={20} dy={8}>{'\u2299'}</tspan>
              <tspan dy={-8}>{seriesSuffixes[i]}</tspan>
            </text>
          </g>
        ))}
        {annotationLines.map((t, i) => (
          <text key={t} x={1378} y={79 + i * 50.7} textAnchor="end" fontFamily={SANS} fontSize={42} fill="#000">
            {t}
          </text>
        ))}
        <text
          x={(PLOT_LEFT + PLOT_RIGHT) / 2}
          y={1036}
          textAnchor="middle"
          fontFamily={SERIF}
          fontSize={34}
          textLength={368}
          lengthAdjust="spacingAndGlyphs"
          fill="#000"
        >
          {xTitle}
        </text>
        <text
          transform={`translate(36,479) rotate(-90)`}
          x={0}
          y={0}
          textAnchor="middle"
          fontFamily={SERIF}
          fontSize={34}
          fill="#000"
        >
          {yTitle}
        </text>
      </svg>
    </div>
  );
}
